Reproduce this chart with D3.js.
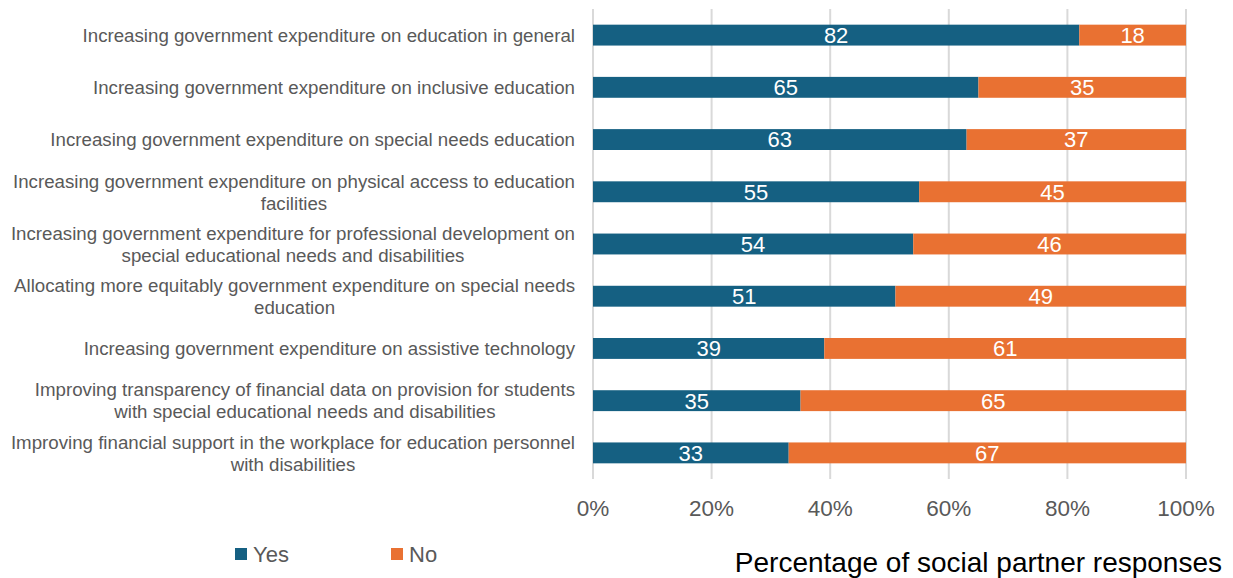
<!DOCTYPE html>
<html>
<head>
<meta charset="utf-8">
<script src="https://cdn.jsdelivr.net/npm/d3@7"></script>
<style>
  body { margin: 0; background: #fff; }
  svg { display: block; font-family: "Liberation Sans", Arial, sans-serif; }
</style>
</head>
<body>
<svg id="chart" width="1233" height="578"></svg>
<script>
// Survey items, each possibly split over two lines
const categories = [
  ["Increasing government expenditure on education in general"],
  ["Increasing government expenditure on inclusive education"],
  ["Increasing government expenditure on special needs education"],
  ["Increasing government expenditure on physical access to education", "facilities"],
  ["Increasing government expenditure for professional development on", "special educational needs and disabilities"],
  ["Allocating more equitably government expenditure on special needs", "education"],
  ["Increasing government expenditure on assistive technology"],
  ["Improving transparency of financial data on provision for students", "with special educational needs and disabilities"],
  ["Improving financial support in the workplace for education personnel", "with disabilities"]
];
const yesValues = [82, 65, 63, 55, 54, 51, 39, 35, 33];
const noValues  = [18, 35, 37, 45, 46, 49, 61, 65, 67];
const seriesNames = ["Yes", "No"];
const tickValues = [0, 20, 40, 60, 80, 100];
const axisTitle = "Percentage of social partner responses";

const colors = { Yes: "#156082", No: "#E97132" };

const svg = d3.select("#chart");
const margin = { left: 593, right: 47, top: 9, bottom: 99 };
const W = 1233, H = 578;

const x = d3.scaleLinear().domain([0, 100]).range([margin.left, W - margin.right]);
const y = d3.scaleBand().domain(d3.range(categories.length))
  .range([margin.top, H - margin.bottom]).paddingInner(0.6).paddingOuter(0.3);

// vertical gridlines
svg.append("g").selectAll("line").data(tickValues).join("line")
  .attr("x1", d => x(d)).attr("x2", d => x(d))
  .attr("y1", margin.top).attr("y2", H - margin.bottom)
  .attr("stroke", "#d9d9d9").attr("stroke-width", 2);

// stacked bars
const rows = categories.map((c, i) => ({ i, Yes: yesValues[i], No: noValues[i] }));
const stack = d3.stack().keys(seriesNames)(rows);

const layers = svg.append("g").selectAll("g").data(stack).join("g")
  .attr("fill", d => colors[d.key]);
layers.selectAll("rect").data(d => d).join("rect")
  .attr("x", d => x(d[0]))
  .attr("width", d => x(d[1]) - x(d[0]))
  .attr("y", d => y(d.data.i))
  .attr("height", y.bandwidth());

// value labels in the middle of each segment
layers.selectAll("text").data(d => d.map(v => ({ v, key: d.key }))).join("text")
  .attr("x", d => (x(d.v[0]) + x(d.v[1])) / 2)
  .attr("y", d => y(d.v.data.i) + y.bandwidth() / 2)
  .attr("dy", "0.36em")
  .attr("text-anchor", "middle")
  .attr("fill", "#fff")
  .attr("font-size", 22)
  .text(d => d.v.data[d.key]);

// category labels: block right-aligned to the plot, lines centred within the block
const labelRight = margin.left - 18;
const lineH = 22;
const labelG = svg.append("g");
categories.forEach((lines, i) => {
  const g = labelG.append("g");
  const cy = y(i) + y.bandwidth() / 2;
  const texts = lines.map((ln, k) => g.append("text")
    .attr("font-size", 18.7)
    .attr("fill", "#595959")
    .attr("text-anchor", "middle")
    .attr("y", cy + (k - (lines.length - 1) / 2) * lineH)
    .attr("dy", "0.36em")
    .text(ln));
  const maxW = d3.max(texts, t => t.node().getComputedTextLength());
  texts.forEach(t => t.attr("x", labelRight - maxW / 2));
});

// x axis tick labels
svg.append("g").selectAll("text").data(tickValues).join("text")
  .attr("x", d => x(d)).attr("y", 508).attr("dy", "0.36em")
  .attr("text-anchor", "middle")
  .attr("font-size", 22.5).attr("fill", "#595959")
  .text(d => d + "%");

// axis title
svg.append("text")
  .attr("x", 1222).attr("y", 562).attr("dy", "0.36em")
  .attr("text-anchor", "end")
  .attr("font-size", 28).attr("fill", "#000")
  .text(axisTitle);

// legend
const legendX = [235, 391];
const legend = svg.append("g").selectAll("g").data(seriesNames).join("g")
  .attr("transform", (d, i) => `translate(${legendX[i]},554)`);
legend.append("rect").attr("x", 0).attr("y", -6).attr("width", 12).attr("height", 12)
  .attr("fill", d => colors[d]);
legend.append("text").attr("x", 18).attr("dy", "0.36em")
  .attr("font-size", 22).attr("fill", "#595959")
  .text(d => d);
</script>
</body>
</html>
